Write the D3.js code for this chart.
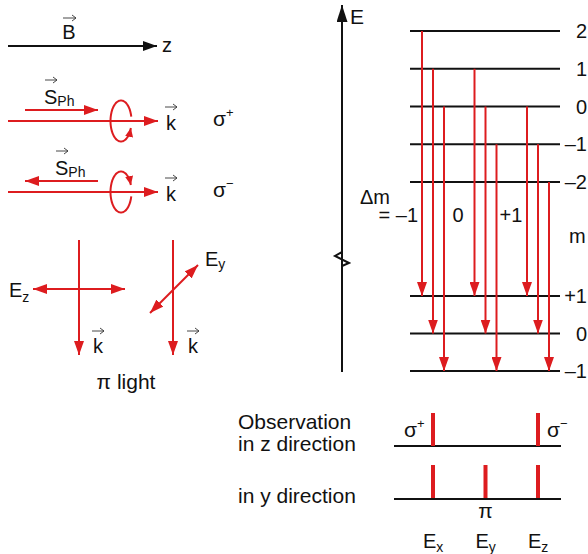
<!DOCTYPE html>
<html>
<head>
<meta charset="utf-8">
<script src="https://cdn.jsdelivr.net/npm/d3@7"></script>
<style>
  body { margin: 0; background: #fff; }
  svg text { font-family: "Liberation Sans", Arial, sans-serif; fill: #111; }
</style>
</head>
<body>
<div id="chart"></div>
<script>
// ─── DATA ─────────────────────────────────────────────────────────────────────
const upperLevels = [2, 1, 0, -1, -2];
const upperLabels = ["2", "1", "0", "\u20131", "\u20132"];
const lowerLevels = [1, 0, -1];
const lowerLabels = ["+1", "0", "\u20131"];
const deltaM = [-1, 0, 1];
const deltaMLabels = ["= \u20131", "0", "+1"];
// [m upper, m lower]
const transitions = [[2, 1], [1, 0], [0, -1], [1, 1], [0, 0], [-1, -1], [0, 1], [-1, 0], [-2, -1]];
const components = ["x", "y", "z"];           // E_x, E_y, E_z  <->  Δm = -1, 0, +1
const zObserved = [-1, 1];                    // only σ lines along z
const yObserved = [-1, 0, 1];

const RED = "#dd1c1f";
const W = 588, H = 554;

const svg = d3.select("#chart").append("svg").attr("width", W).attr("height", H);

// ─── MARKERS ──────────────────────────────────────────────────────────────────
const defs = svg.append("defs");
function marker(id, color, len, wid) {
  defs.append("marker")
    .attr("id", id)
    .attr("markerUnits", "userSpaceOnUse")
    .attr("markerWidth", len).attr("markerHeight", wid)
    .attr("refX", len).attr("refY", wid / 2)
    .attr("orient", "auto-start-reverse")
    .append("path")
    .attr("d", `M0,0L${len},${wid / 2}L0,${wid}Z`)
    .attr("fill", color);
}
marker("redHead", RED, 14, 10);
marker("blackHead", "#111", 14, 10);
marker("axisHead", "#111", 17, 11);
marker("smallRed", RED, 9, 8);

function arrow(g, x1, y1, x2, y2, color, head, both) {
  const l = g.append("line")
    .attr("x1", x1).attr("y1", y1).attr("x2", x2).attr("y2", y2)
    .attr("stroke", color).attr("stroke-width", 2)
    .attr("marker-end", `url(#${head})`);
  if (both) l.attr("marker-start", `url(#${head})`);
  return l;
}

// small vector arrow over a letter
function vec(g, x, y, w) {
  g.append("path")
    .attr("d", `M${x},${y}H${x + w}M${x + w - 4},${y - 3}L${x + w},${y}L${x + w - 4},${y + 3}`)
    .attr("fill", "none").attr("stroke", "#333").attr("stroke-width", 0.9);
}

function label(g, x, y, txt, size, anchor) {
  return g.append("text").attr("x", x).attr("y", y)
    .attr("font-size", size || 20)
    .attr("text-anchor", anchor || "start")
    .text(txt);
}

function withSub(g, x, y, main, sub, size, subDy) {
  const t = g.append("text").attr("x", x).attr("y", y).attr("font-size", size || 20);
  t.append("tspan").text(main);
  t.append("tspan").attr("font-size", 14).attr("dy", subDy == null ? 4 : subDy).text(sub);
  return t;
}

// ─── LEFT PANEL ───────────────────────────────────────────────────────────────
const left = svg.append("g");

// B field along z
arrow(left, 8, 46, 157, 46, "#111", "blackHead");
label(left, 69, 39, "B", 20, "middle");
vec(left, 63, 18, 13);
label(left, 162, 52, "z", 20);

// circular polarisation rows
function circle(g, cx, cy, flip) {
  const rx = 10.5, ry = 20.5;
  const angles = d3.range(-12, -341, -4).map(a => a * Math.PI / 180);
  const pts = angles.map(a => [cx + rx * Math.cos(a), cy + (flip ? -1 : 1) * ry * Math.sin(a)]);
  g.append("path")
    .attr("d", d3.line().curve(d3.curveCatmullRom)(pts))
    .attr("fill", "none").attr("stroke", RED).attr("stroke-width", 2)
    .attr("marker-end", "url(#smallRed)");
}

const rows = [
  { y: 121, sy: 110, sFrom: 25, sTo: 98, sx: 44, sign: "+", flip: false },
  { y: 192, sy: 181, sFrom: 98, sTo: 25, sx: 55, sign: "\u2212", flip: true }
];
rows.forEach(r => {
  arrow(left, r.sFrom, r.sy, r.sTo, r.sy, RED, "redHead");
  withSub(left, r.sx, r.sy - 6, "S", "Ph", 20, 2);
  vec(left, r.sx + 1, r.sy - 30, 12);
  arrow(left, 8, r.y, 158, r.y, RED, "redHead");
  circle(left, 121, r.y, r.flip);
  label(left, 166, r.y + 9, "k", 20);
  vec(left, 165, r.y - 14, 12);
  const s = left.append("text").attr("x", 213).attr("y", r.y + 5).attr("font-size", 21);
  s.append("tspan").text("\u03c3");
  s.append("tspan").attr("font-size", 13).attr("dy", -9).text(r.sign);
});

// π light
arrow(left, 79, 240, 79, 355, RED, "redHead");
arrow(left, 33, 289, 125, 289, RED, "redHead", true);
withSub(left, 9, 297, "E", "z", 20, 5);
label(left, 93, 353, "k", 20);
vec(left, 92, 331, 12);

arrow(left, 173, 240, 173, 355, RED, "redHead");
arrow(left, 150, 313, 198, 265, RED, "redHead", true);
withSub(left, 205, 266, "E", "y", 20, 3);
label(left, 188, 353, "k", 20);
vec(left, 187, 331, 12);

label(left, 126, 389, "\u03c0 light", 21, "middle");

// ─── ENERGY DIAGRAM ───────────────────────────────────────────────────────────
const yUp = d3.scaleLinear().domain([2, -2]).range([31, 182]);
const yLow = d3.scaleLinear().domain([1, -1]).range([296, 371]);
const xGroup = d3.scalePoint().domain(deltaM).range([422, 527]);
const xOff = d3.scaleLinear().domain([1, -1]).range([0, 22]);
const x0 = 410, x1 = 560;

const diag = svg.append("g");

// energy axis with break
const axisX = 342;
diag.append("path")
  .attr("d", `M${axisX},372V252L${axisX - 7},256L${axisX + 7},263L${axisX},266`)
  .attr("fill", "none").attr("stroke", "#111").attr("stroke-width", 2);
diag.append("line")
  .attr("x1", axisX).attr("y1", 266).attr("x2", axisX).attr("y2", 5)
  .attr("stroke", "#111").attr("stroke-width", 2)
  .attr("marker-end", "url(#axisHead)");
label(diag, 350, 24, "E", 21);

// levels
diag.selectAll(".up").data(upperLevels).join("line")
  .attr("x1", x0).attr("x2", x1)
  .attr("y1", d => yUp(d)).attr("y2", d => yUp(d))
  .attr("stroke", "#111").attr("stroke-width", 2);
diag.selectAll(".low").data(lowerLevels).join("line")
  .attr("class", "low")
  .attr("x1", x0).attr("x2", x1)
  .attr("y1", d => yLow(d)).attr("y2", d => yLow(d))
  .attr("stroke", "#111").attr("stroke-width", 2);

upperLevels.forEach((m, i) => {
  label(diag, 587, yUp(m) + 7, upperLabels[i], 20, "end");
});
lowerLevels.forEach((m, i) => {
  label(diag, 587, yLow(m) + 7, lowerLabels[i], 20, "end");
});
label(diag, 569, 243, "m", 20);

// transitions
transitions.forEach(([mu, ml]) => {
  const x = xGroup(ml - mu) + xOff(ml);
  arrow(diag, x, yUp(mu), x, yLow(ml), RED, "redHead");
});

label(diag, 360, 204, "\u0394m", 20);
label(diag, 418, 222, deltaMLabels[0], 20, "end");
label(diag, 458, 222, deltaMLabels[1], 20, "middle");
label(diag, 511, 222, deltaMLabels[2], 20, "middle");

// ─── OBSERVED SPECTRA ─────────────────────────────────────────────────────────
const spec = svg.append("g");
const xSpec = d => xGroup(d) + 11;
const zBase = 446, yBase = 499, barH = 33;

label(spec, 238, 429, "Observation", 21);
label(spec, 238, 451, "in z direction", 21);
label(spec, 238, 503, "in y direction", 21);

[zBase, yBase].forEach(b => {
  spec.append("line").attr("x1", 394).attr("x2", 561).attr("y1", b).attr("y2", b)
    .attr("stroke", "#111").attr("stroke-width", 2);
});

spec.selectAll(".zb").data(zObserved).join("rect")
  .attr("x", d => xSpec(d) - 2).attr("width", 4)
  .attr("y", zBase - barH).attr("height", barH).attr("fill", RED);
spec.selectAll(".yb").data(yObserved).join("rect")
  .attr("class", "yb")
  .attr("x", d => xSpec(d) - 2).attr("width", 4)
  .attr("y", yBase - barH - 1).attr("height", barH).attr("fill", RED);

// σ labels
[["+", 404], ["\u2212", 547]].forEach(([sg, x]) => {
  const s = spec.append("text").attr("x", x).attr("y", 437).attr("font-size", 21);
  s.append("tspan").text("\u03c3");
  s.append("tspan").attr("font-size", 13).attr("dy", -9).text(sg);
});
label(spec, xSpec(0), 518, "\u03c0", 21, "middle");

components.forEach((c, i) => {
  withSub(spec, xSpec(deltaM[i]) - 10, 548, "E", c, 20, 4);
});
</script>
</body>
</html>
